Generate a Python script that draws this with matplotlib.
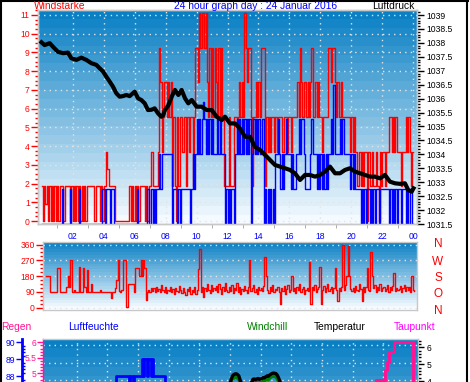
import numpy as np
import matplotlib
matplotlib.use("Agg")
import matplotlib.pyplot as plt
from matplotlib import transforms
from matplotlib.lines import Line2D
from matplotlib.ticker import MultipleLocator, FixedLocator

plt.rcParams['font.family'] = ['Liberation Sans', 'DejaVu Sans']

# ---------------- data ----------------
KNOT = 1.852  # wind values read in knot steps, plotted in km/h

# gust (red), 5-minute values, in knots/ (x 1.852)
gust_knots = [
    1, 0, 1, 0.5, 1, 0, 1, 0, 1, 0, 1, 0,
    1, 0, 1, 1, 1, 0, 1, 1, 1, 1, 0, 1,
    0, 1, 0, 1, 0, 1, 0, 1, 0, 1, 0, 1,
    1, 1, 1, 1, 1, 0, 1, 1, 1, 0, 1, 0,
    1, 1, 2, 1.5, 1, 1, 1, 1, 1, 0, 0, 0,
    0, 0, 0, 0, 0, 0, 0, 0, 1, 0, 1, 0,
    1, 0, 1, 0, 1, 1, 1, 1, 0, 1, 0, 1,
    1, 2, 1, 1, 1, 1, 2, 5, 4, 2, 3, 4,
    4, 3, 4, 3, 4, 1, 3, 1, 0, 3, 1, 3,
    3, 2, 3, 3, 1, 3, 2, 3, 3, 1, 3, 5,
    5, 4, 6, 5, 6, 6, 5, 6, 4, 3, 5, 3,
    5, 3, 5, 4, 3, 5, 3, 5, 3, 1, 1, 1,
    1, 3, 1, 1, 1, 3, 3, 2, 3, 4, 3, 4,
    3, 6, 5, 4, 5, 5, 3, 1, 3, 3, 4, 3,
    4, 3, 5, 5, 5, 1, 3, 2, 3, 2, 3, 3,
    2, 3, 2, 3, 3, 3, 2, 2, 3, 3, 2, 3,
    3, 2, 3, 3, 3, 3, 4, 3, 5, 4, 3, 4,
    4, 3, 4, 3, 4, 5, 3, 3, 4, 3, 4, 3,
    3, 2, 3, 3, 3, 3, 5, 5, 4, 5, 5, 4,
    3, 4, 3, 3, 4, 3, 3, 3, 3, 3, 3, 2,
    3, 2, 3, 2, 1, 1, 2, 1, 2, 1, 2, 2,
    0, 2, 1, 1, 2, 1, 1, 2, 1, 0, 2, 1,
    2, 2, 1, 2, 2, 3, 3, 2, 3, 2, 3, 2,
    2, 2, 1, 2, 2, 2, 3, 2, 3, 2, 1, 2,
]

# mean wind (blue), 5-minute values
mean_knots = [
    0, 0, 0, 0, 0, 0, 0, 0, 0, 0, 0, 0,
    0, 0, 0, 0, 1, 0, 0, 0, 0, 0, 1, 0,
    0, 0, 0, 0, 0, 1, 0, 0, 0, 0, 0, 0,
    0, 0, 0, 0, 0, 0, 0, 0, 0, 0, 0, 1,
    1, 0, 1, 1, 1, 0, 1, 1, 0, 0, 0, 0,
    0, 0, 0, 0, 0, 0, 0, 0, 0, 0, 0, 0,
    0, 0, 1, 0, 0, 0, 0, 0, 0, 0, 1, 0,
    0, 1, 0, 1, 0, 1, 1, 2, 1, 2, 2, 2,
    2, 2, 2, 2, 2, 0, 1, 1, 1, 0, 1, 0,
    1, 1, 1, 1, 1, 1, 1, 0, 1, 2, 1, 2,
    3, 2, 3, 2, 3, 3.5, 3, 2, 3, 2, 3, 2,
    3, 2, 2, 2, 3, 2, 3, 2, 2, 2, 0, 1,
    0, 1, 0, 1, 1, 0, 2, 3, 2, 3, 2, 3,
    2, 3, 2, 3, 2, 3, 0, 2, 3, 2, 3, 2,
    3, 2, 2, 3, 0, 1, 0, 1, 0, 1, 0, 1,
    0, 2, 2, 3, 2, 1, 2, 1, 2, 3, 2, 2,
    2, 1, 2, 1, 1, 2, 2, 3, 2, 3, 3, 2,
    1, 1, 1, 1, 2, 3, 2, 2, 2, 1, 2, 1,
    2, 1, 2, 1, 2, 1, 2, 2, 3, 2, 4, 2,
    2, 2, 2, 3, 2, 3, 2, 2, 2, 2, 2, 1,
    2, 1, 2, 1, 1, 1, 1, 0, 1, 0, 1, 0,
    1, 1, 0, 1, 0, 1, 0, 1, 1, 0, 1, 1,
    1, 1, 1, 1, 1, 0, 1, 0, 1, 0, 1, 0,
    1, 1, 0, 1, 1, 1, 0, 1, 0, 1, 1, 0,
]

pressure_hours = [0.0, 0.2, 0.53, 0.74, 1.06, 1.39, 1.71, 1.92, 2.25, 2.57, 2.89, 3.22,
                  3.54, 3.75, 3.97, 4.18, 4.4, 4.61, 4.83, 5.04, 5.26, 5.47, 5.69, 6.01,
                  6.23, 6.44, 6.66, 6.87, 7.09, 7.3, 7.52, 7.73, 7.85, 7.97, 8.18, 8.4,
                  8.61, 8.83, 9.04, 9.26, 9.47, 9.69, 10.01, 10.34, 10.66, 10.98, 11.3, 11.63,
                  11.84, 12.16, 12.48, 12.8, 13.13, 13.45, 13.77, 14.09, 14.42, 14.74, 15.06, 15.39,
                  15.71, 16.03, 16.35, 16.68, 17.0, 17.32, 17.65, 17.97, 18.29, 18.61, 18.94, 19.26,
                  19.58, 19.9, 20.23, 20.55, 20.87, 21.19, 21.51, 21.84, 22.16, 22.48, 22.81, 23.13,
                  23.45, 23.66, 23.88, 24.0]
pressure_hpa = [1038.02, 1037.92, 1037.99, 1037.86, 1037.68, 1037.63, 1037.65, 1037.45, 1037.39, 1037.47, 1037.39, 1037.27,
                1037.21, 1037.09, 1036.97, 1036.79, 1036.61, 1036.43, 1036.19, 1036.07, 1036.09, 1036.13, 1036.09, 1036.25,
                1036.01, 1035.95, 1035.83, 1035.59, 1035.60, 1035.65, 1035.47, 1035.35, 1035.40, 1035.60, 1035.75, 1036.07,
                1036.31, 1036.13, 1036.31, 1036.01, 1035.83, 1035.95, 1035.71, 1035.71, 1035.59, 1035.59, 1035.35, 1035.23,
                1035.35, 1035.11, 1035.11, 1034.93, 1034.63, 1034.63, 1034.27, 1034.16, 1033.98, 1033.80, 1033.62, 1033.56,
                1033.50, 1033.44, 1033.32, 1033.08, 1033.26, 1033.26, 1033.20, 1033.26, 1033.38, 1033.56, 1033.32, 1033.32,
                1033.44, 1033.50, 1033.38, 1033.32, 1033.26, 1033.20, 1033.20, 1033.14, 1033.26, 1033.02, 1032.96, 1032.94,
                1032.96, 1032.72, 1032.66, 1032.78]

# wind direction (degrees), 5-minute values
wind_dir = [
    180, 180, 180, 90, 90, 90, 90, 90, 90, 225, 225, 90,
    90, 90, 90, 90, 120, 180, 120, 270, 90, 90, 100, 90,
    90, 90, 230, 90, 90, 225, 120, 90, 215, 90, 90, 135,
    90, 90, 90, 90, 90, 90, 100, 90, 90, 90, 90, 90,
    90, 90, 90, 55, 90, 90, 110, 155, 270, 95, 90, 100,
    270, 270, 270, 5, 135, 135, 135, 135, 135, 90, 225, 225,
    225, 180, 270, 180, 270, 225, 45, 90, 100, 90, 110, 95,
    110, 90, 120, 95, 105, 90, 130, 100, 90, 115, 85, 100,
    95, 120, 90, 105, 80, 110, 95, 90, 125, 100, 85, 110,
    90, 70, 105, 95, 120, 80, 100, 90, 115, 75, 100, 220,
    335, 90, 120, 60, 110, 95, 135, 100, 85, 130, 95, 110,
    100, 125, 90, 135, 105, 80, 120, 95, 140, 100, 90, 115,
    95, 130, 85, 110, 100, 140, 90, 120, 75, 105, 95, 125,
    100, 85, 120, 270, 95, 110, 130, 90, 105, 80, 115, 100,
    110, 95, 125, 290, 180, 100, 85, 120, 95, 130, 90, 105,
    100, 120, 90, 20, 110, 95, 125, 80, 105, 130, 90, 100,
    180, 95, 110, 85, 120, 100, 135, 90, 105, 115, 80, 100,
    110, 95, 260, 20, 120, 100, 130, 90, 105, 115, 230, 20,
    100, 125, 90, 110, 135, 95, 105, 120, 85, 110, 225, 100,
    40, 110, 95, 120, 355, 100, 130, 180, 350, 180, 105, 95,
    110, 90, 125, 100, 95, 135, 105, 40, 115, 90, 120, 225,
    100, 95, 320, 180, 110, 130, 90, 115, 100, 135, 95, 110,
    120, 95, 105, 130, 90, 115, 100, 125, 200, 95, 110, 100,
    105, 125, 90, 110, 130, 95, 115, 100, 120, 90, 180, 100,
    95,
]

# humidity (%), 5-minute values from 04:15 to 08:00
hum_start_hour = 4.25
humidity = [87, 87, 87, 87, 88, 88, 88, 88, 88, 88, 88, 88,
            88, 88, 87, 88, 88, 87, 88, 88, 88, 88, 88, 88,
            89, 88, 89, 89, 88, 89, 89, 88, 89, 88, 88, 88,
            88, 88, 88, 88, 88, 88, 87, 87, 87, 87]

# temperature / windchill (deg C), 5-minute values from 11:45 to 15:30
temp_start_hour = 11.75
temperature = [3.6, 3.7, 3.75, 3.85, 4.1, 4.3, 4.38, 4.42, 4.43, 4.38, 4.3, 4.05,
               3.85, 3.8, 3.75, 3.7, 3.75, 3.8, 3.8, 3.85, 3.9, 4.1, 4.12, 4.08,
               4.12, 4.15, 4.1, 4.12, 4.15, 4.2, 4.18, 4.25, 4.3, 4.28, 4.35, 4.4,
               4.45, 4.47, 4.46, 4.44, 4.35, 4.2, 4.0, 3.8, 3.7, 3.6]
windchill = [3.4, 3.5, 3.55, 3.65, 3.85, 4.1, 4.15, 4.25, 4.2, 4.15, 4.05, 3.8,
             3.6, 3.55, 3.5, 3.45, 3.5, 3.55, 3.6, 3.6, 3.7, 3.85, 3.95, 3.85,
             3.95, 3.9, 3.85, 3.95, 3.9, 4.0, 3.95, 4.05, 4.1, 4.05, 4.15, 4.2,
             4.3, 4.25, 4.3, 4.2, 4.1, 3.95, 3.8, 3.6, 3.5, 3.4]

# rain (mm), step values
rain_hours = [21.40, 21.53, 22.11, 22.22, 22.39, 22.70, 23.96, 24.0]
rain_mm = [4.6, 4.8, 5.1, 5.37, 5.7, 6.0, 0.0, 0.0]

hour_labels = ['02', '04', '06', '08', '10', '12', '14', '16', '18', '20', '22', '00']
compass = ['N', 'W', 'S', 'O', 'N']

# ---------------- figure ----------------
W, H = 470, 382
fig = plt.figure(figsize=(W / 100, H / 100), dpi=100)
fig.patch.set_facecolor('white')

RED = '#ff0000'
BLUE = '#0000ff'
PINK = '#ff1493'
GRID = '#e4e4e4'
FRAME = '#c8c8c8'
DOT = (0, (1, 3))
PX = 72 / 100  # points per pixel


def px_axes(l, t, r, b):
    return fig.add_axes([l / W, 1 - b / H, (r - l) / W, (b - t) / H])


def background(ax, n=24):
    top = np.array([10, 128, 196]) / 255
    bot = np.array([244, 250, 255]) / 255
    f = np.linspace(0, 1, n)[:, None]
    cols = top * (1 - f) + bot * f
    ax.imshow(cols[:, None, :], extent=(0, 1, 0, 1), transform=ax.transAxes,
              aspect='auto', interpolation='nearest', zorder=0)


def frame(ax):
    for s in ax.spines.values():
        s.set_color(FRAME)
        s.set_linewidth(1)


t5 = np.arange(len(gust_knots) + 1) / 12.0

# ---- top panel: wind + pressure ----
ax1 = px_axes(38, 10, 417, 224)
background(ax1)
gust = np.array(gust_knots + [gust_knots[-1]]) * KNOT
mean = np.array(mean_knots + [mean_knots[-1]]) * KNOT
ax1.step(t5, gust, where='post', color=RED, lw=1, zorder=2)
blue_tr = ax1.transData + transforms.ScaledTranslation(0, -2.5 / 100, fig.dpi_scale_trans)
ax1.step(t5, mean, where='post', color=BLUE, lw=1, zorder=3, transform=blue_tr)
ax1.set_xlim(-0.226, 24.226)
ax1.set_ylim(-0.16, 11.265)
ax1.set_yticks(range(12))
ax1.yaxis.set_minor_locator(MultipleLocator(0.25))
ax1.tick_params(axis='y', which='major', colors=RED, length=5, width=1, labelsize=6.2, pad=1)
ax1.tick_params(axis='y', which='minor', colors=RED, length=2.5, width=1)
ax1.set_xticks(range(2, 25, 2))
ax1.set_xticklabels(hour_labels)
ax1.xaxis.set_minor_locator(FixedLocator(range(1, 24, 2)))
ax1.tick_params(axis='x', which='major', length=0, labelcolor=BLUE, labelsize=6.2, pad=6)
ax1.tick_params(axis='x', which='minor', length=3, color='#a0a0a0')
ax1.set_axisbelow(True)
ax1.grid(True, which='major', color=GRID, linestyle=DOT, linewidth=1)
frame(ax1)

axp = ax1.twinx()
axp.plot(pressure_hours, pressure_hpa, color='black', lw=3.0, zorder=4)
axp.set_ylim(1031.5, 1039.18)
pt = np.arange(1031.5, 1039.01, 0.5)
axp.set_yticks(pt)
axp.set_yticklabels([f'{v:g}' for v in pt])
axp.yaxis.set_minor_locator(MultipleLocator(0.1))
axp.tick_params(axis='y', which='major', colors='black', length=5, width=1, labelsize=6.2, pad=2)
axp.tick_params(axis='y', which='minor', colors='black', length=2, width=1)
frame(axp)

# ---- wind direction panel ----
ax2 = px_axes(43.3, 242.3, 417, 309.5)
background(ax2)
ax2.step(t5, wind_dir, where='post', color=RED, lw=1, zorder=2)
ax2.set_xlim(-0.176, 24.2)
ax2.set_ylim(-11.4, 372.6)
ax2.set_yticks([0, 90, 180, 270, 360])
ax2.yaxis.set_minor_locator(MultipleLocator(22.5))
ax2.tick_params(axis='y', which='major', colors=RED, length=5, width=1, labelsize=6.2, pad=1)
ax2.tick_params(axis='y', which='minor', colors=RED, length=2.5, width=1)
ax2.set_xticks([])
ax2.set_axisbelow(True)
ax2.grid(True, axis='y', which='major', color=GRID, linestyle=DOT, linewidth=1)
frame(ax2)
for lab, yp in zip(compass, [244, 262, 278, 294, 311]):
    fig.text(438 / W, 1 - yp / H, lab, color=RED, fontsize=8.5, ha='center', va='center')

# ---- bottom panel: rain / humidity / temperature ----
ax3 = px_axes(43, 339.3, 418, 560)
background(ax3)
ax3.set_xlim(-0.196, 24.27)
ax3.set_ylim(-1.023, 6.097)
ax3.set_xticks(range(2, 23, 2))
ax3.tick_params(axis='x', length=0, labelbottom=False)
ax3.set_axisbelow(True)
ax3.grid(True, axis='x', which='major', color=GRID, linestyle=DOT, linewidth=1)
for yv in [5.913, 5.342, 4.771, 4.2]:
    ax3.axhline(yv, color=GRID, linestyle=DOT, linewidth=1, zorder=0.5)
ax3.step(rain_hours, rain_mm, where='post', color=PINK, lw=2.2, zorder=3)
ax3.set_yticks([5, 5.5, 6])
ax3.set_yticklabels(['5', '5.5', '6'])
ax3.yaxis.set_minor_locator(MultipleLocator(0.1))
ax3.tick_params(axis='y', which='major', colors=PINK, length=4, width=1, labelsize=6.2, pad=1)
ax3.tick_params(axis='y', which='minor', colors=PINK, length=2, width=1)
frame(ax3)
ax3.spines['left'].set_color(PINK)

axh = ax3.twinx()
hum_t = hum_start_hour + np.arange(len(humidity)) / 12.0
axh.step(hum_t, humidity, where='post', color=BLUE, lw=2, zorder=3)
axh.set_ylim(77.19, 90.176)
axh.yaxis.tick_left()
axh.spines['left'].set_position(('outward', 21 * PX))
axh.spines['left'].set_visible(True)
axh.spines['left'].set_color(BLUE)
axh.spines['left'].set_linewidth(2)
for side in ['right', 'top', 'bottom']:
    axh.spines[side].set_visible(False)
axh.set_yticks([88, 89, 90])
axh.yaxis.set_minor_locator(MultipleLocator(0.2))
axh.tick_params(axis='y', which='major', colors=BLUE, length=4, width=1, labelsize=6.2, pad=1)
axh.tick_params(axis='y', which='minor', colors=BLUE, length=2, width=1, direction='in')

axt = ax3.twinx()
temp_t = temp_start_hour + np.arange(len(temperature)) / 12.0
axt.plot(temp_t, windchill, color='#008000', lw=2.0, zorder=3)
axt.plot(temp_t, temperature, color='black', lw=2.4, zorder=4)
axt.set_ylim(-6.62, 6.475)
axt.set_yticks([4, 5, 6])
axt.yaxis.set_minor_locator(MultipleLocator(0.2))
axt.tick_params(axis='y', which='major', colors='black', length=4, width=1, labelsize=6.2, pad=2)
axt.tick_params(axis='y', which='minor', colors='black', length=2, width=1)
for side in ['left', 'top', 'bottom']:
    axt.spines[side].set_visible(False)
axt.spines['right'].set_color(FRAME)

# ---- texts ----
TS = 7.4
fig.text(34 / W, 1 - 6 / H, 'Windstärke', color=RED, fontsize=TS, ha='left', va='center')
fig.text(256 / W, 1 - 6 / H, '24 hour graph day : 24 Januar 2016', color=BLUE, fontsize=TS,
         ha='center', va='center')
fig.text(393 / W, 1 - 6 / H, 'Luftdruck', color='black', fontsize=TS, ha='center', va='center')

row_y = 1 - 327 / H
fig.text(16 / W, row_y, 'Regen', color=PINK, fontsize=TS, ha='center', va='center')
fig.text(93 / W, row_y, 'Luftfeuchte', color=BLUE, fontsize=TS, ha='center', va='center')
fig.text(268 / W, row_y, 'Windchill', color='#008000', fontsize=TS, ha='center', va='center')
fig.text(340 / W, row_y, 'Temperatur', color='black', fontsize=TS, ha='center', va='center')
fig.text(415 / W, row_y, 'Taupunkt', color='#ff00ff', fontsize=TS, ha='center', va='center')

# ---- outer frame ----
fig.add_artist(Line2D([0.75 / W, 0.75 / W], [0, 1], color='black', lw=1.5, transform=fig.transFigure))
fig.add_artist(Line2D([0, 467.5 / W], [1 - 0.75 / H, 1 - 0.75 / H], color='black', lw=1.5,
                      transform=fig.transFigure))
fig.add_artist(Line2D([467 / W, 467 / W], [0, 1], color='black', lw=1.5, transform=fig.transFigure))

fig.savefig('out.png', dpi=100)
